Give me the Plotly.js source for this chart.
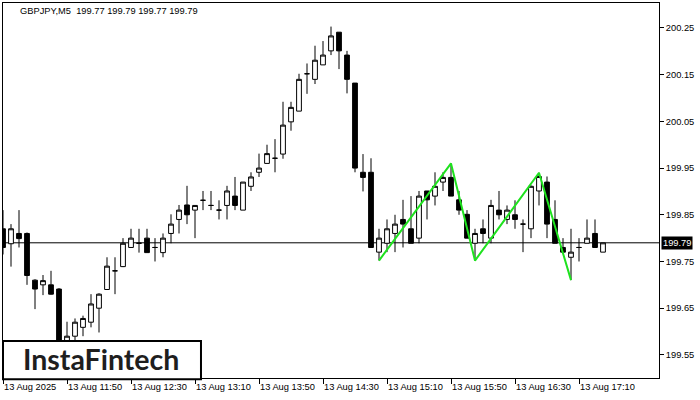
<!DOCTYPE html>
<html>
<head>
<meta charset="utf-8">
<script src="https://cdn.plot.ly/plotly-3.0.1.min.js"></script>
<style>html,body{margin:0;padding:0;background:#fff;}#chart{width:700px;height:400px;}</style>
</head>
<body>
<div id="chart"></div>
<script>
// GBPJPY M5, 13 Aug 2025, bars from 11:10 to 17:25 (index 0..75)
const openP = [199.820,199.788,199.810,199.810,199.710,199.700,199.700,199.691,199.575,199.590,
  199.609,199.620,199.650,199.690,199.730,199.739,199.780,199.789,199.800,199.780,
  199.769,199.810,199.840,199.871,199.860,199.881,199.870,199.860,199.870,199.890,
  199.860,199.911,199.941,199.960,199.971,199.980,200.049,200.072,200.152,200.140,
  200.171,200.201,200.241,200.192,200.132,199.941,199.941,199.770,199.789,199.810,
  199.840,199.820,199.800,199.901,199.890,199.920,199.930,199.882,199.851,199.789,
  199.820,199.800,199.860,199.840,199.850,199.830,199.820,199.901,199.920,199.840,
  199.780,199.759,199.780,199.789,199.810,199.770];
const highP = [199.860,199.830,199.860,199.812,199.712,199.721,199.730,199.693,199.621,199.628,
  199.634,199.680,199.682,199.759,199.759,199.800,199.820,199.820,199.820,199.800,
  199.810,199.851,199.871,199.912,199.870,199.901,199.901,199.881,199.912,199.931,
  199.920,199.941,199.981,200.000,200.012,200.092,200.092,200.152,200.174,200.212,
  200.222,200.253,200.241,200.201,200.132,199.980,199.971,199.820,199.840,199.850,
  199.882,199.890,199.901,199.901,199.941,199.941,199.960,199.901,199.860,199.820,
  199.840,199.882,199.901,199.870,199.881,199.840,199.913,199.940,199.932,199.881,
  199.800,199.820,199.800,199.840,199.840,199.790];
const lowP = [199.765,199.739,199.780,199.700,199.648,199.678,199.679,199.565,199.555,199.575,
  199.590,199.609,199.598,199.689,199.680,199.738,199.779,199.769,199.769,199.750,
  199.759,199.789,199.810,199.830,199.800,199.860,199.860,199.840,199.840,199.860,
  199.860,199.901,199.931,199.960,199.941,199.970,200.030,200.072,200.109,200.130,
  200.171,200.192,200.162,200.110,199.941,199.900,199.779,199.752,199.770,199.770,
  199.780,199.789,199.789,199.840,199.870,199.901,199.890,199.850,199.800,199.752,
  199.789,199.789,199.840,199.830,199.820,199.770,199.800,199.870,199.800,199.789,
  199.770,199.710,199.750,199.789,199.780,199.770];
const closeP = [199.780,199.820,199.799,199.720,199.691,199.709,199.680,199.575,199.590,199.620,
  199.628,199.659,199.680,199.740,199.730,199.789,199.800,199.789,199.769,199.780,
  199.800,199.830,199.860,199.850,199.870,199.881,199.870,199.860,199.901,199.870,
  199.920,199.931,199.950,199.981,199.971,200.042,200.080,200.140,200.152,200.181,
  200.192,200.233,200.201,200.140,199.950,199.930,199.780,199.800,199.820,199.830,
  199.830,199.789,199.890,199.882,199.911,199.930,199.890,199.860,199.800,199.810,
  199.810,199.870,199.850,199.860,199.840,199.830,199.911,199.932,199.830,199.789,
  199.770,199.770,199.780,199.800,199.780,199.790];

const xTickIdx = [0, 8, 16, 24, 32, 40, 48, 56, 64, 72];
const xTickLabels = ["13 Aug 2025","13 Aug 11:50","13 Aug 12:30","13 Aug 13:10","13 Aug 13:50",
  "13 Aug 14:30","13 Aug 15:10","13 Aug 15:50","13 Aug 16:30","13 Aug 17:10"];
const yTickVals = [199.55, 199.65, 199.75, 199.85, 199.95, 200.05, 200.15, 200.25];
const yTickLabels = ["199.55","199.65","199.75","199.85","199.95","200.05","200.15","200.25"];

// pattern (green zig-zag) anchor bars and prices
const patternIdx = [47, 56, 59, 67, 71];
const patternPrice = [199.752, 199.960, 199.752, 199.940, 199.710];

const lastPrice = 199.79;
const headerText = "GBPJPY,M5\u00a0 199.77 199.79 199.77 199.79";

const xIdx = openP.map((_, i) => i);
const tickFont = {family: "Liberation Sans, Arial, sans-serif", size: 9.3, color: "#000"};

const traces = [
  {
    type: "candlestick",
    x: xIdx, open: openP, high: highP, low: lowP, close: closeP,
    increasing: {line: {color: "#000", width: 1}, fillcolor: "#fff"},
    decreasing: {line: {color: "#000", width: 1}, fillcolor: "#000"},
    whiskerwidth: 0,
    hoverinfo: "skip",
    showlegend: false
  },
  {
    type: "scatter", mode: "lines",
    x: patternIdx, y: patternPrice,
    line: {color: "#1ee21e", width: 2},
    hoverinfo: "skip", showlegend: false
  }
];

const layout = {
  width: 700, height: 400,
  margin: {l: 3, r: 41, t: 3, b: 22, pad: 0},
  paper_bgcolor: "#fff", plot_bgcolor: "#fff",
  showlegend: false,
  boxgap: 0.15,
  xaxis: {
    range: [0, 82], showgrid: false, zeroline: false,
    showline: true, mirror: true, linecolor: "#000", linewidth: 1,
    ticks: "outside", ticklen: 5, tickcolor: "#000", tickwidth: 1,
    tickmode: "array", tickvals: xTickIdx, ticktext: xTickLabels,
    ticklabelposition: "outside right",
    tickfont: tickFont,
    rangeslider: {visible: false}, fixedrange: true
  },
  yaxis: {
    side: "right", range: [199.5005, 200.3035],
    showgrid: false, zeroline: false,
    showline: true, mirror: true, linecolor: "#000", linewidth: 1,
    ticks: "outside", ticklen: 4, tickcolor: "#000", tickwidth: 1,
    tickmode: "array", tickvals: yTickVals, ticktext: yTickLabels,
    tickfont: tickFont, fixedrange: true
  },
  shapes: [
    {type: "line", xref: "paper", x0: 0, x1: 1, yref: "y", y0: lastPrice, y1: lastPrice,
     line: {color: "#000", width: 1}, layer: "below"},
    {type: "rect", xref: "paper", yref: "paper", x0: 0, x1: 0.3018, y0: -0.003, y1: 0.099,
     fillcolor: "#fff", line: {color: "#000", width: 2}, layer: "above"}
  ],
  annotations: [
    {xref: "paper", yref: "paper", x: 0.0235, y: 0.978, xanchor: "left", yanchor: "middle",
     text: headerText, showarrow: false, font: tickFont},
    {xref: "paper", yref: "y", x: 1, y: lastPrice, xanchor: "left", yanchor: "middle", xshift: 2,
     text: lastPrice.toFixed(2), showarrow: false, bgcolor: "#000", borderpad: 1,
     font: {family: "Liberation Sans, Arial, sans-serif", size: 9.3, color: "#fff"}},
    {xref: "paper", yref: "paper", x: 0.1495, y: 0.052, xanchor: "center", yanchor: "middle",
     text: "InstaFintech", showarrow: false,
     font: {family: "Lato, sans-serif", size: 28.5, color: "#1e1e1e", weight: 700}}
  ]
};

Plotly.newPlot("chart", traces, layout, {staticPlot: true, displayModeBar: false});
</script>
</body>
</html>
